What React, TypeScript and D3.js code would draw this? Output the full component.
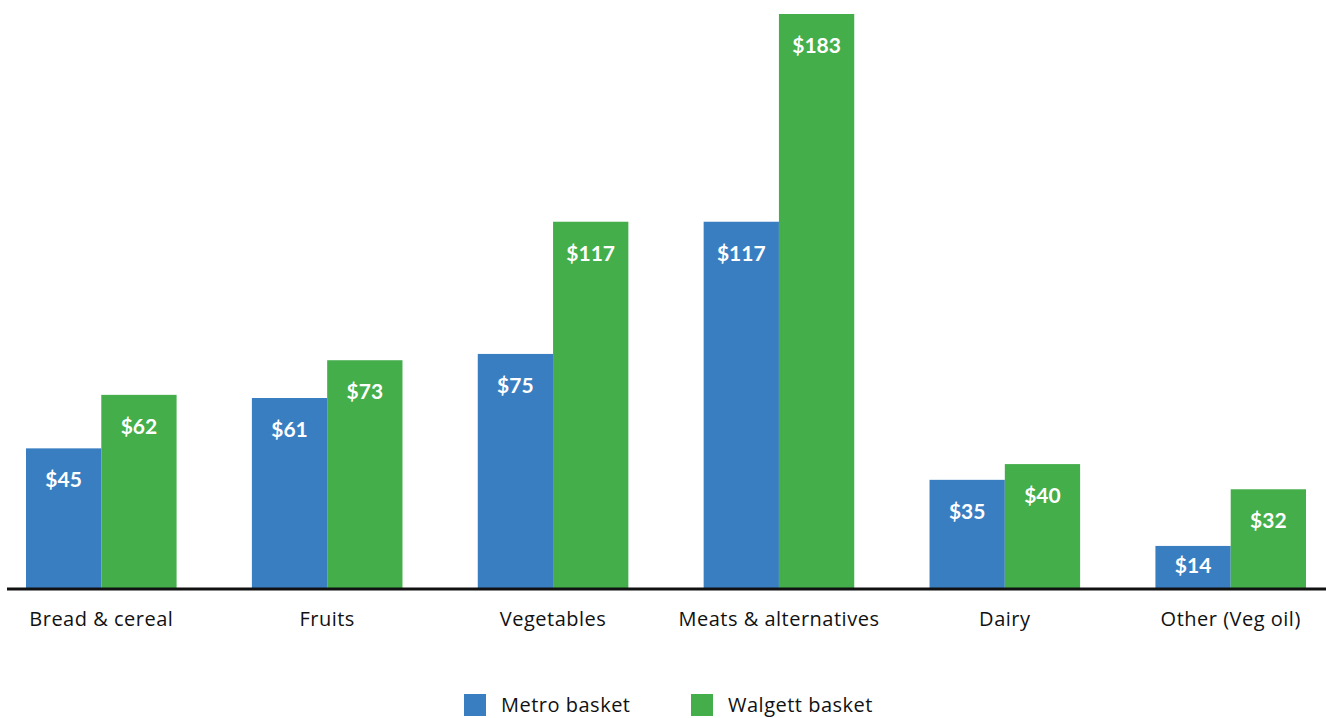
import React from 'react';
import * as d3 from 'd3';

const categories = ['Bread & cereal', 'Fruits', 'Vegetables', 'Meats & alternatives', 'Dairy', 'Other (Veg oil)'];
const seriesNames = ['Metro basket', 'Walgett basket'];
const metroValues = [45, 61, 75, 117, 35, 14];
const walgettValues = [62, 73, 117, 183, 40, 32];
const colors = ['#3a7ec2', '#43ae4a'];

const W = 1326;
const H = 718;
const LABEL_FONT = '"Open Sans", Lato, sans-serif';
const VALUE_FONT = 'Lato, "Open Sans", sans-serif';

const App: React.FC = () => {
  const x0 = d3.scaleBand<string>()
    .domain(categories)
    .range([26, 1306])
    .paddingInner(1 / 3)
    .paddingOuter(0);

  const x1 = d3.scaleBand<string>()
    .domain(seriesNames)
    .range([0, x0.bandwidth()]);

  const y = d3.scaleLinear().domain([0, 183]).range([590, 14]);

  const series = [metroValues, walgettValues];

  return (
    <svg width={W} height={H} viewBox={`0 0 ${W} ${H}`}
      style={{ position: 'absolute', left: 0, top: 0 }}>
      <rect width={W} height={H} fill="#fff" />
      {categories.map((c, i) => (
        <g key={c} transform={`translate(${x0(c)},0)`}>
          {seriesNames.map((s, j) => {
            const v = series[j][i];
            const bx = x1(s) ?? 0;
            const h = y(0) - y(v);
            // short bars get their label centred instead of hanging from the top
            const cy = y(v) + Math.min(31, h / 2 - 3);
            return (
              <g key={s}>
                <rect x={bx} y={y(v)} width={x1.bandwidth()} height={h} fill={colors[j]} />
                <text x={bx + x1.bandwidth() / 2} y={cy + 8} textAnchor="middle"
                  fill="#fff" fontSize={21} fontWeight={700} fontFamily={VALUE_FONT}>
                  {`$${v}`}
                </text>
              </g>
            );
          })}
          <text x={x0.bandwidth() / 2} y={626} textAnchor="middle" letterSpacing={0.5}
            fill="#111" fontSize={20} fontFamily={LABEL_FONT}>{c}</text>
        </g>
      ))}
      <line x1={7} x2={W} y1={589} y2={589} stroke="#111" strokeWidth={3} />
      {seriesNames.map((s, j) => {
        const lx = j === 0 ? 464 : 691;
        return (
          <g key={s} transform={`translate(${lx},694)`}>
            <rect width={22} height={22} fill={colors[j]} />
            <text x={37} y={18} letterSpacing={0.5} fill="#111" fontSize={20}
              fontFamily={LABEL_FONT}>{s}</text>
          </g>
        );
      })}
    </svg>
  );
};

export default App;
